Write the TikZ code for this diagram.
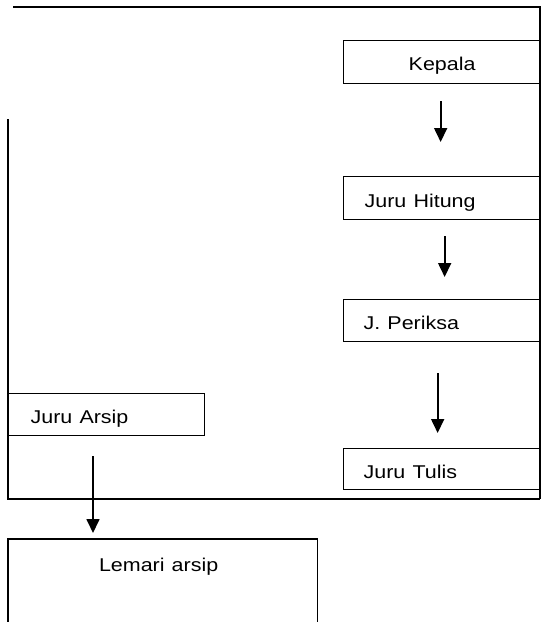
\documentclass[tikz,border=0pt]{standalone}
\usepackage{fontspec}
\setmainfont{Liberation Sans}
\usetikzlibrary{arrows.meta}
\newcommand\wtxt[1]{\scalebox{1.16}[1]{#1}}
\tikzset{
  box/.style={draw, line width=1.3pt, anchor=north west, inner xsep=0pt, inner ysep=0pt,
    font=\fontsize{18.5}{22}\selectfont},
  flow/.style={line width=1.7pt, -{Triangle[width=13pt,length=14pt]}},
  frame/.style={line width=1.3pt}
}
\begin{document}
\begin{tikzpicture}[x=1pt,y=-1pt]
\useasboundingbox (0,0) rectangle (545,622);
% frame lines
\coordinate (tl) at (13,7);
\coordinate (tr) at (540,7);
\coordinate (br) at (540,499);
\coordinate (bl) at (8,499);
\coordinate (lt) at (8,119);
\draw[frame] (tl) -- (tr) -- (br);
\draw[frame] (lt) -- (bl) -- (br);
% boxes
\node[box, text width=197pt, align=center, text height=30pt, text depth=13pt] (kep) at (343,40) {\wtxt{Kepala}};
\node[box, text width=197pt, align=left, text height=31pt, text depth=12pt] (jh) at (343,176) {\hspace*{21pt}\wtxt{Juru Hitung}};
\node[box, text width=197pt, align=left, text height=30pt, text depth=12pt] (jp) at (343,299) {\hspace*{20pt}\wtxt{J. Periksa}};
\node[box, text width=197pt, align=left, text height=30pt, text depth=11pt] (jt) at (343,448) {\hspace*{20pt}\wtxt{Juru Tulis}};
\node[box, text width=196pt, align=left, text height=30pt, text depth=12pt] (ja) at (8,393) {\hspace*{22pt}\wtxt{Juru Arsip}};
\node[box, draw=none, text width=308pt, align=center, text height=32pt, text depth=51pt] (lm) at (8,539) {\hspace*{-8pt}\wtxt{Lemari arsip}};
\draw[frame] (lm.south west) -- (lm.north west) -- (lm.north east) -- (lm.south east);
% arrows
\draw[flow, shorten <=17pt, shorten >=34pt] ([xshift=-1.5pt]kep.south) -- ([xshift=-1.5pt]jh.north);
\draw[flow, shorten <=16pt, shorten >=22pt] ([xshift=2.5pt]jh.south) -- ([xshift=2.5pt]jp.north);
\draw[flow, shorten <=31pt, shorten >=15pt] ([xshift=-4.5pt]jp.south) -- ([xshift=-4.5pt]jt.north);
\coordinate (a4) at (93,456);
\draw[flow, shorten >=6pt] (a4) -- (a4 |- lm.north);
\end{tikzpicture}
\end{document}
